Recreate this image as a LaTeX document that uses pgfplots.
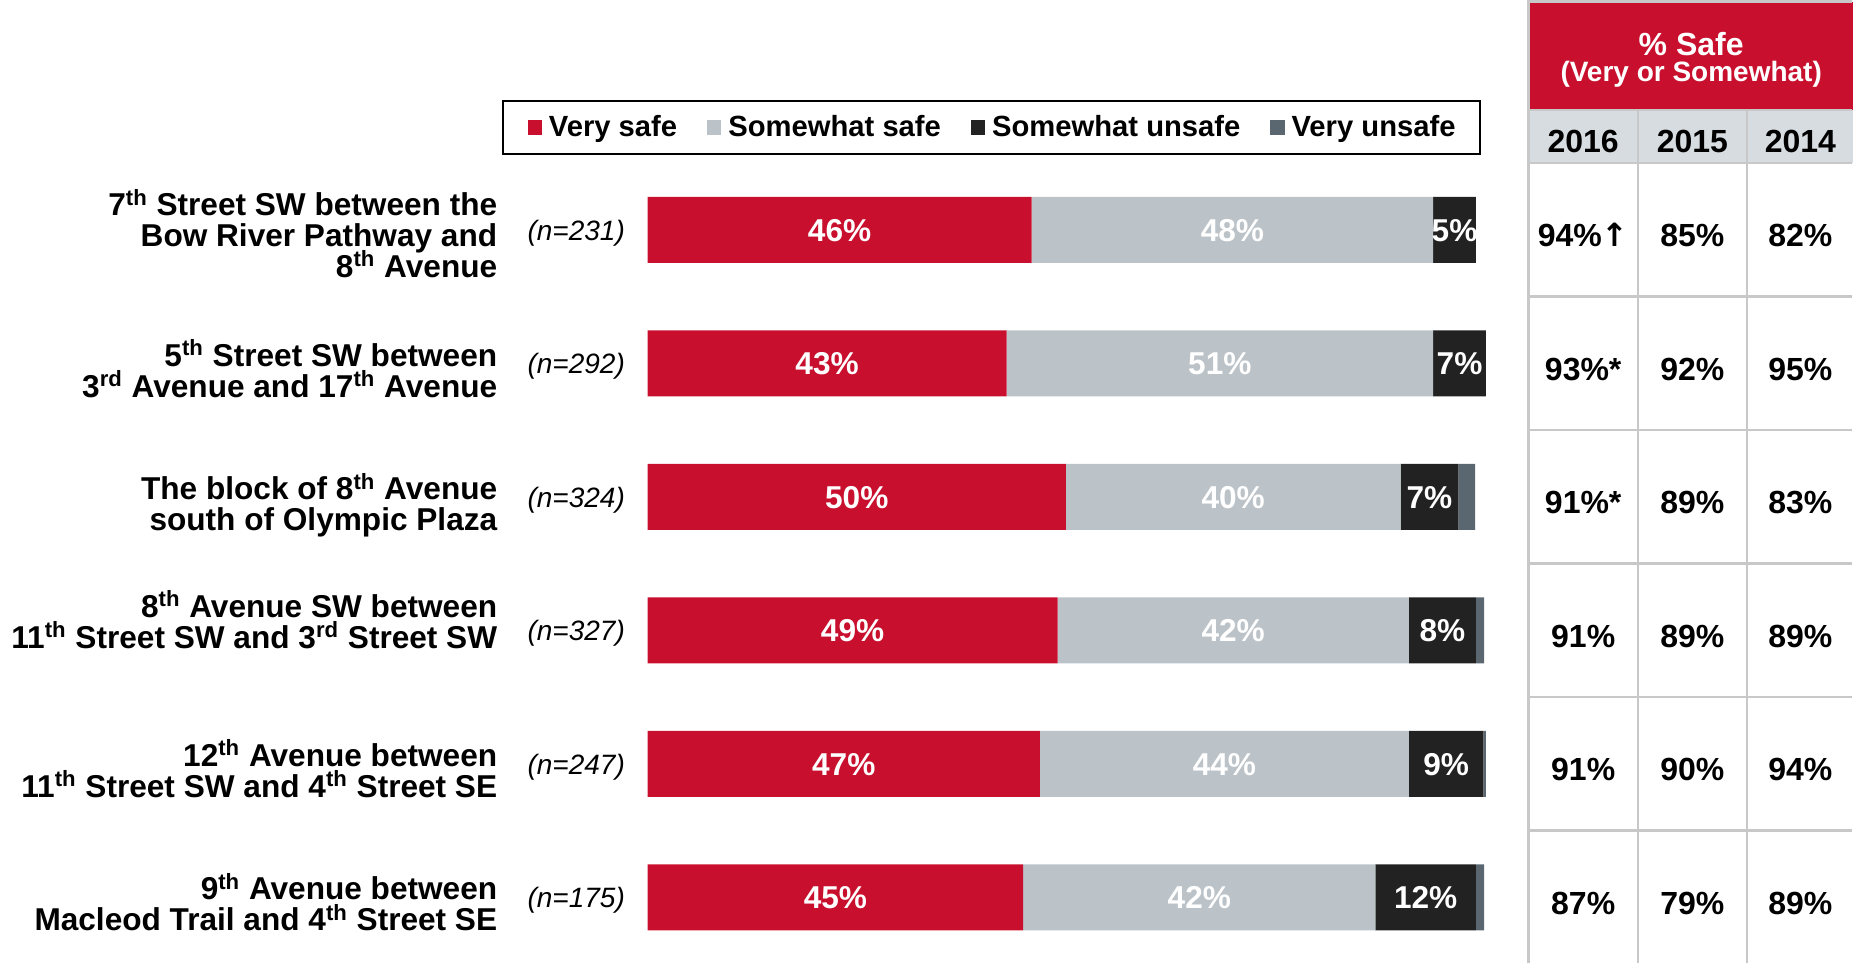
\documentclass[border=0pt]{standalone}
\usepackage{fontspec}
\setmainfont{Liberation Sans}
\newfontfamily\arrowfont{DejaVu Sans}
\usepackage{pgfplots}
\pgfplotsset{compat=1.18}
\usepackage{pgfplotstable}
\definecolor{vsafe}{HTML}{C8102E}
\definecolor{ssafe}{HTML}{BCC3C8}
\definecolor{sunsafe}{HTML}{222222}
\definecolor{vunsafe}{HTML}{5A6670}
\definecolor{yearbg}{HTML}{D6DCE0}
\definecolor{gridc}{HTML}{C8C8C8}

\pgfplotstableread{
y vs ss su vu
1 45.9 48.0 5.1 0
2 42.9 51.0 6.3 0
3 50.0 40.0 6.9 2.0
4 49.0 42.0 8.0 1.0
5 46.9 44.1 8.9 0.3
6 44.9 42.1 12.0 1.0
}\bardata

\newcommand{\lblfont}{\fontsize{15.8}{15.4}\selectfont\bfseries\lineskiplimit=-50pt\relax}
\newcommand{\valfont}{\fontsize{15.8}{15.8}\selectfont\bfseries}
\newcommand{\tabfont}{\fontsize{16}{16}\selectfont\bfseries}
\newcommand{\sth}{\textsuperscript{th}}
\newcommand{\srd}{\textsuperscript{rd}}
\tikzset{barval/.style={text=white, font=\valfont, anchor=base, inner sep=0pt, yshift=-5.8pt},
  cat/.style={anchor=east, align=right, inner sep=0pt, xshift=-75pt, font=\lblfont},
  nn/.style={font=\fontsize{14}{14}\selectfont\itshape, inner sep=0pt, xshift=-35.7pt, yshift=-1.5pt}}

\begin{document}
\begin{tikzpicture}
\path (0pt,0pt) rectangle (926.5pt,482pt);
% ---- right-hand table ----
\fill[vsafe] (764.2pt,427pt) rectangle (926.5pt,481pt);
\fill[yearbg] (764.2pt,400.5pt) rectangle (926.5pt,427pt);
\draw[gridc, line width=1.3pt] (925.8pt,481.3pt) -- (764.2pt,481.3pt) -- (764.2pt,0.7pt);
\foreach \yy in {427,400.5,333.75,267,200.25,133.5,66.75}
  \draw[gridc, line width=1.3pt] (764.2pt,\yy pt) -- (925.8pt,\yy pt);
\foreach \xx in {818.9,873.4}
  \draw[gridc, line width=1.3pt] (\xx pt,0.7pt) -- (\xx pt,427pt);
\node[white, font=\fontsize{16}{16}\selectfont\bfseries, anchor=base, inner sep=0pt] at (845.6pt,454.3pt) {\% Safe};
\node[white, font=\fontsize{14}{14}\selectfont\bfseries, anchor=base, inner sep=0pt] at (845.6pt,441.0pt) {(Very or Somewhat)};
\node[font=\tabfont, anchor=base, inner sep=0pt] at (791.6pt,405.8pt) {2016};
\node[font=\tabfont, anchor=base, inner sep=0pt] at (846.2pt,405.8pt) {2015};
\node[font=\tabfont, anchor=base, inner sep=0pt] at (900.2pt,405.8pt) {2014};
\foreach \r/\a/\b/\c in {1/{94\%{\arrowfont\bfseries ↑}}/85\%/82\%, 2/93\%*/92\%/95\%, 3/91\%*/89\%/83\%, 4/91\%/89\%/89\%, 5/91\%/90\%/94\%, 6/87\%/79\%/89\%}{
  \pgfmathsetmacro{\yb}{400.5-66.75*(\r-0.5)-8.4}
  \node[font=\tabfont, anchor=base, inner sep=0pt] at (791.6pt,\yb pt) {\a};
  \node[font=\tabfont, anchor=base, inner sep=0pt] at (846.2pt,\yb pt) {\b};
  \node[font=\tabfont, anchor=base, inner sep=0pt] at (900.2pt,\yb pt) {\c};
}
% ---- bar chart ----
\begin{axis}[
  at={(323.8pt,0pt)}, anchor=south west, scale only axis,
  width=418.3pt, height=400.5pt,
  xbar stacked, bar width=33pt,
  xmin=0, xmax=100, ymin=0.5, ymax=6.5, y dir=reverse,
  axis lines=none, xtick=\empty, ytick=\empty, clip=false,
  legend columns=4,
  legend image code/.code={\fill[#1] (0pt,-3.6pt) rectangle (7.2pt,3.6pt);},
  legend style={at={(0.9959,1.0442)}, anchor=east, draw=black, line width=0.8pt,
    fill=white, font=\fontsize{14.6}{14.6}\selectfont\bfseries,
    inner xsep=12.2pt, inner ysep=5.7pt,
    nodes={inner xsep=0pt, inner ysep=1.5pt},
    /tikz/every odd column/.append style={column sep=3.5pt},
    /tikz/every even column/.append style={column sep=14.9pt}},
]
\addplot[fill=vsafe, draw=none] table[x=vs, y=y]{\bardata};
\addplot[fill=ssafe, draw=none] table[x=ss, y=y]{\bardata};
\addplot[fill=sunsafe, draw=none] table[x=su, y=y]{\bardata};
\addplot[fill=vunsafe, draw=none] table[x=vu, y=y]{\bardata};
\legend{Very safe, Somewhat safe, Somewhat unsafe, Very unsafe}

% anchor points for the value labels (segment midpoints)
\coordinate (a1) at (axis cs:22.95,1);
\coordinate (b1) at (axis cs:69.9,1);
\coordinate (c1) at (axis cs:96.45,1);
\coordinate (a2) at (axis cs:21.45,2);
\coordinate (b2) at (axis cs:68.4,2);
\coordinate (c2) at (axis cs:97.05,2);
\coordinate (a3) at (axis cs:25,3);
\coordinate (b3) at (axis cs:70,3);
\coordinate (c3) at (axis cs:93.45,3);
\coordinate (a4) at (axis cs:24.5,4);
\coordinate (b4) at (axis cs:70,4);
\coordinate (c4) at (axis cs:95,4);
\coordinate (a5) at (axis cs:23.45,5);
\coordinate (b5) at (axis cs:68.95,5);
\coordinate (c5) at (axis cs:95.45,5);
\coordinate (a6) at (axis cs:22.45,6);
\coordinate (b6) at (axis cs:65.95,6);
\coordinate (c6) at (axis cs:93,6);

% category labels
\node[cat, yshift=-1.8pt] at (axis cs:0,1) {7\sth{} Street SW between the\\Bow River Pathway and\\8\sth{} Avenue};
\node[cat, yshift=-2.7pt] at (axis cs:0,2) {5\sth{} Street SW between\\3\srd{} Avenue and 17\sth{} Avenue};
\node[cat, yshift=-4.1pt] at (axis cs:0,3) {The block of 8\sth{} Avenue\\south of Olympic Plaza};
\node[cat, yshift=5.3pt] at (axis cs:0,4) {8\sth{} Avenue SW between\\11\sth{} Street SW and 3\srd{} Street SW};
\node[cat, yshift=-2.4pt] at (axis cs:0,5) {12\sth{} Avenue between\\11\sth{} Street SW and 4\sth{} Street SE};
\node[cat, yshift=-2.4pt] at (axis cs:0,6) {9\sth{} Avenue between\\Macleod Trail and 4\sth{} Street SE};

% sample sizes
\node[nn] at (axis cs:0,1) {(n=231)};
\node[nn] at (axis cs:0,2) {(n=292)};
\node[nn] at (axis cs:0,3) {(n=324)};
\node[nn] at (axis cs:0,4) {(n=327)};
\node[nn] at (axis cs:0,5) {(n=247)};
\node[nn] at (axis cs:0,6) {(n=175)};
\end{axis}
% value labels on top of the bars
\node[barval] at (a1) {46\%};
\node[barval] at (b1) {48\%};
\node[barval] at (c1) {5\%};
\node[barval] at (a2) {43\%};
\node[barval] at (b2) {51\%};
\node[barval] at (c2) {7\%};
\node[barval] at (a3) {50\%};
\node[barval] at (b3) {40\%};
\node[barval] at (c3) {7\%};
\node[barval] at (a4) {49\%};
\node[barval] at (b4) {42\%};
\node[barval] at (c4) {8\%};
\node[barval] at (a5) {47\%};
\node[barval] at (b5) {44\%};
\node[barval] at (c5) {9\%};
\node[barval] at (a6) {45\%};
\node[barval] at (b6) {42\%};
\node[barval] at (c6) {12\%};
\end{tikzpicture}
\end{document}
